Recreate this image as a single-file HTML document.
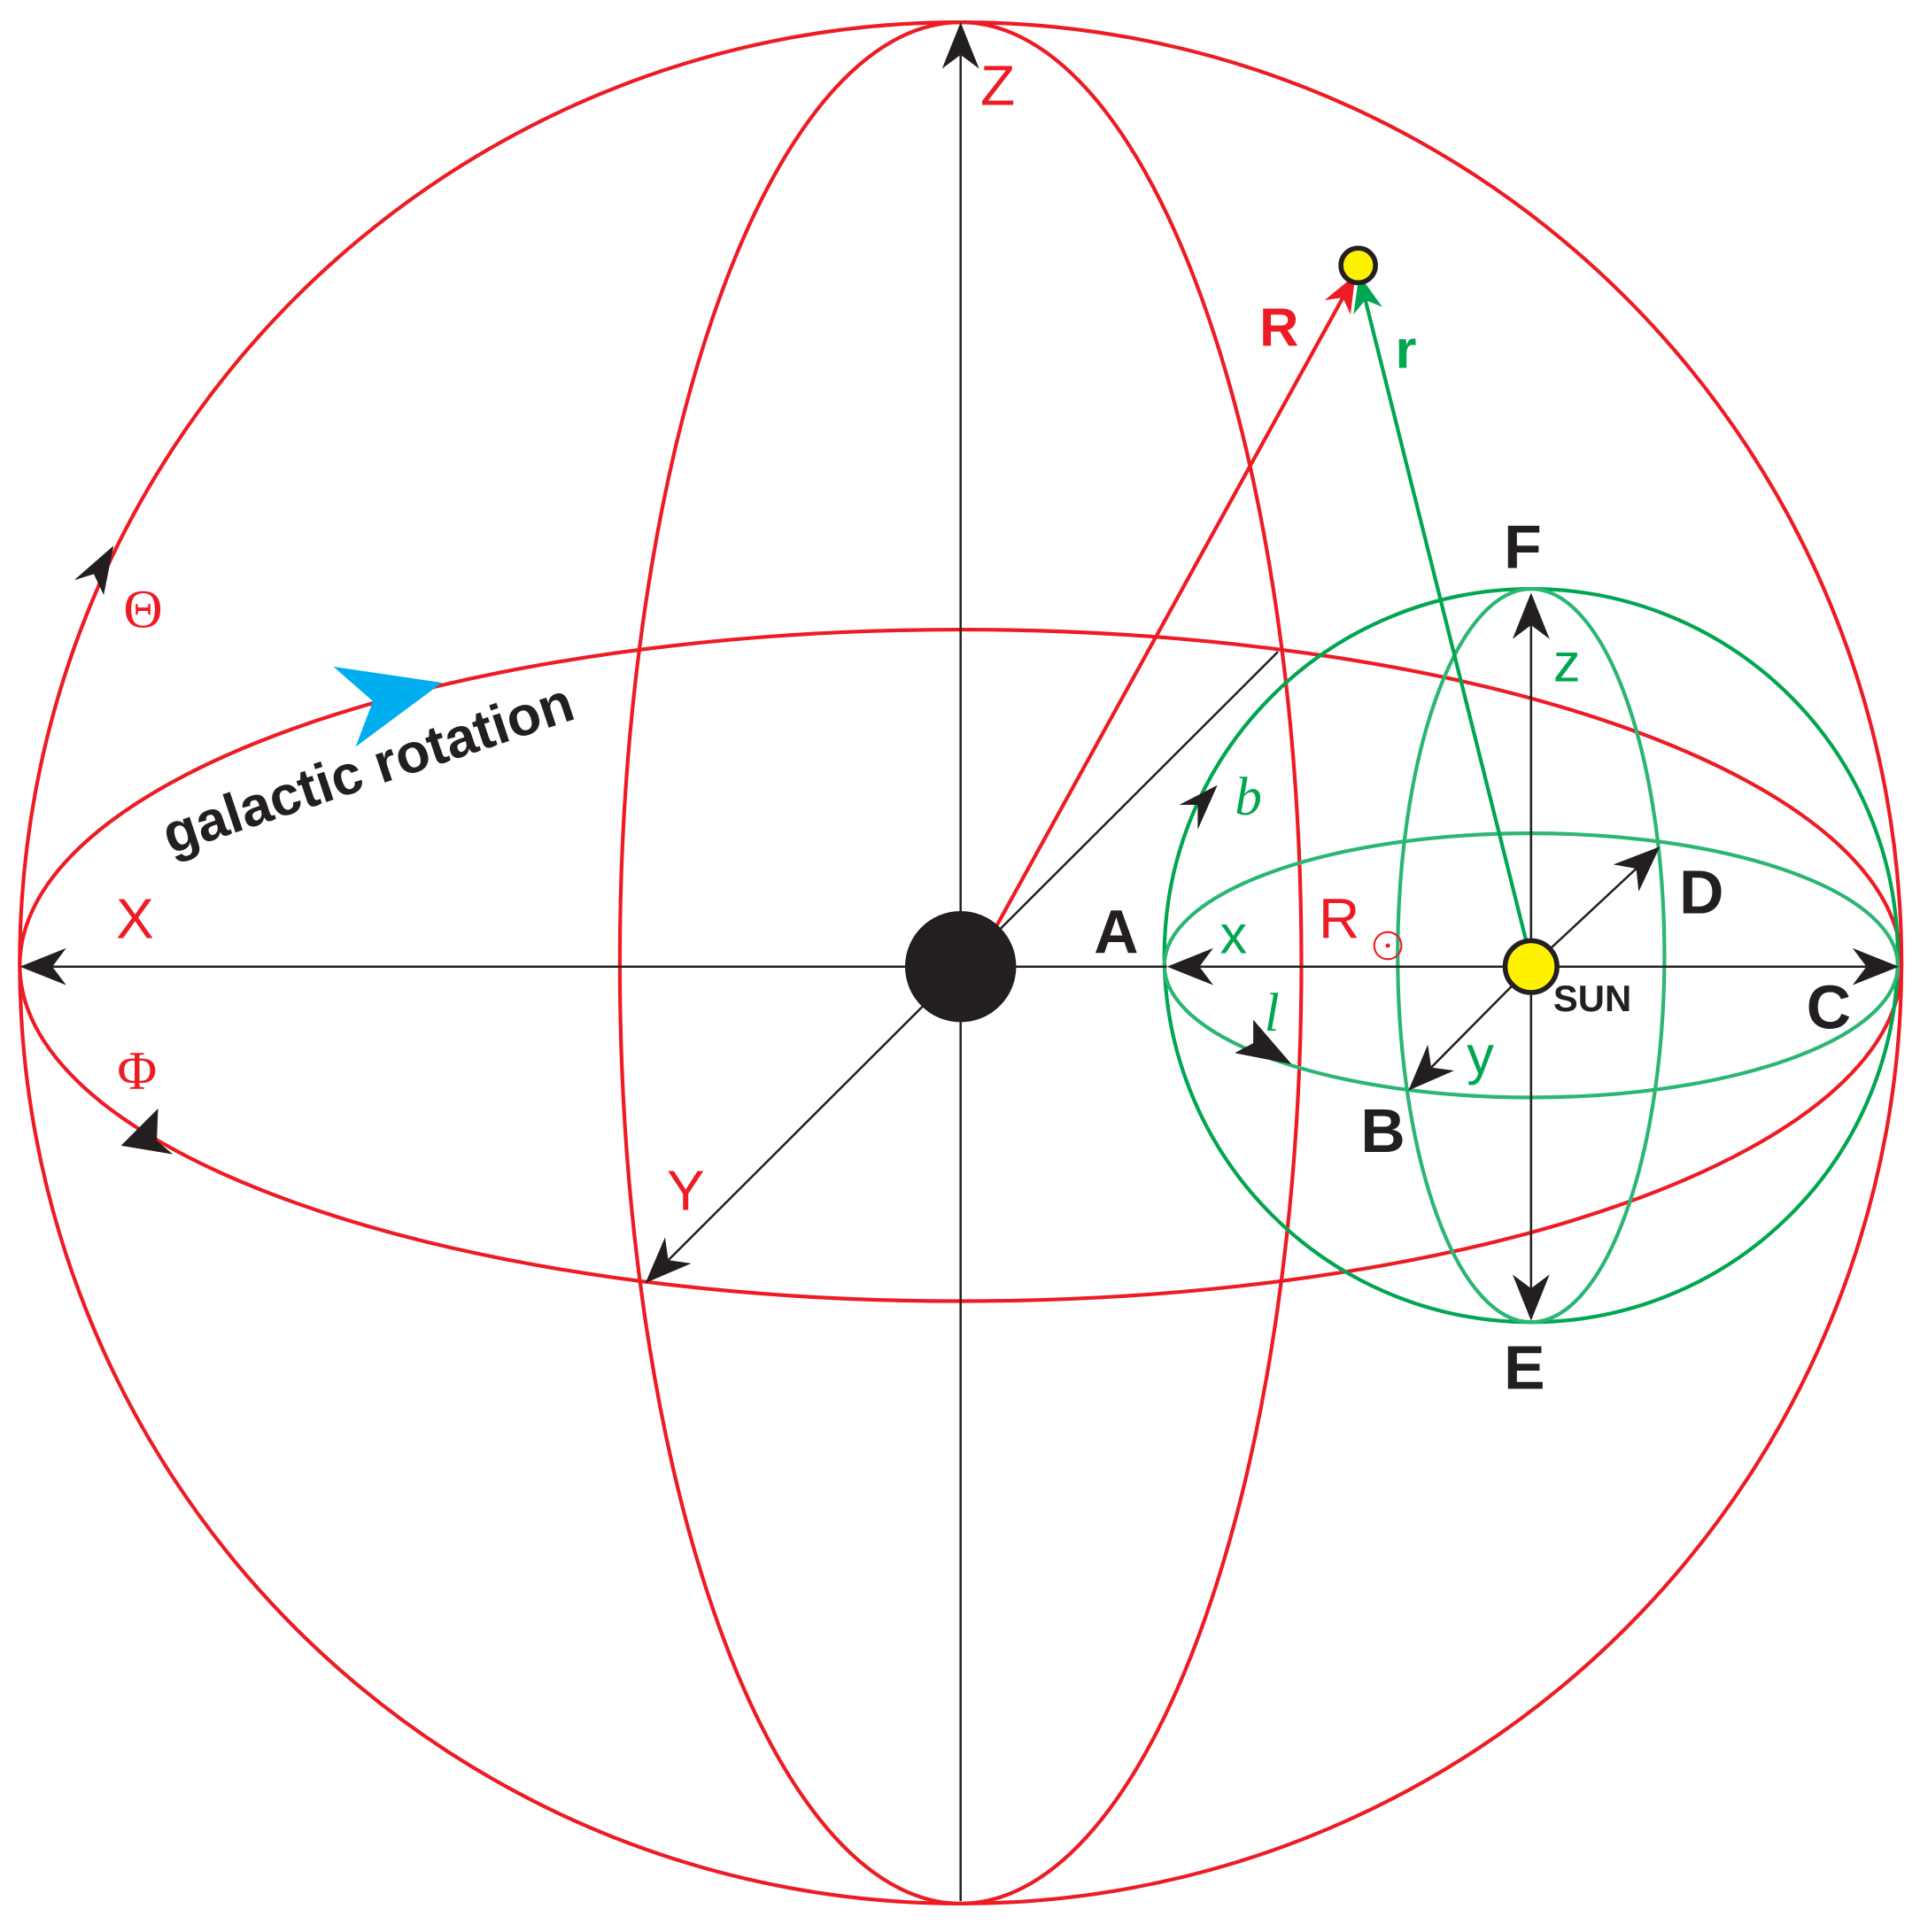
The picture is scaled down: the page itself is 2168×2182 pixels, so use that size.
<!DOCTYPE html>
<html><head><meta charset="utf-8"><style>
html,body{margin:0;padding:0;background:#fff}
svg{display:block}
text{font-family:"Liberation Sans",sans-serif}
</style></head><body>
<svg width="2168" height="2182" viewBox="0 0 1555 1565" xmlns="http://www.w3.org/2000/svg">
<defs>
<marker id="ah" viewBox="0 0 20 16" refX="19" refY="8" markerWidth="40" markerHeight="30" markerUnits="userSpaceOnUse" orient="auto">
<path d="M0,0 L20,8 L0,16 L6,8 Z" fill="#231f20"/></marker>
<marker id="ahr" viewBox="0 0 20 16" refX="19" refY="8" markerWidth="30" markerHeight="24" markerUnits="userSpaceOnUse" orient="auto">
<path d="M0,0 L20,8 L0,16 L6,8 Z" fill="#ed1c24"/></marker>
<marker id="ahg" viewBox="0 0 20 16" refX="19" refY="8" markerWidth="30" markerHeight="24" markerUnits="userSpaceOnUse" orient="auto">
<path d="M0,0 L20,8 L0,16 L6,8 Z" fill="#00a651"/></marker>
</defs>
<g fill="none" stroke="#ed1c24" stroke-width="3">
<circle cx="778" cy="780" r="762"/>
<ellipse cx="778" cy="780" rx="276" ry="762"/>
<ellipse cx="778" cy="782" rx="762" ry="272"/>
</g>
<g fill="none" stroke="#00a651" stroke-width="3">
<circle cx="1240" cy="774" r="297"/>
</g>
<g fill="none" stroke="#2bb673" stroke-width="3">
<ellipse cx="1240" cy="774" rx="108" ry="297"/>
<ellipse cx="1240" cy="782" rx="297" ry="107"/>
</g>
<g stroke="#231f20" stroke-width="1.8" fill="none">
<line x1="778" y1="1540" x2="778" y2="20" marker-end="url(#ah)"/>
<line x1="778" y1="783" x2="18" y2="783" marker-end="url(#ah)"/>
<line x1="778" y1="783" x2="945" y2="783"/>
<line x1="1035" y1="528" x2="524" y2="1038" marker-end="url(#ah)"/>
<line x1="1240" y1="783" x2="947" y2="783" marker-end="url(#ah)"/>
<line x1="1240" y1="783" x2="1536" y2="783" marker-end="url(#ah)"/>
<line x1="1240" y1="783" x2="1240" y2="482" marker-end="url(#ah)"/>
<line x1="1240" y1="783" x2="1240" y2="1068" marker-end="url(#ah)"/>
<line x1="1240" y1="783" x2="1343" y2="687" marker-end="url(#ah)"/>
<line x1="1240" y1="783" x2="1142" y2="882" marker-end="url(#ah)"/>
</g>
<line x1="795" y1="772" x2="1097" y2="224" stroke="#ed1c24" stroke-width="3" marker-end="url(#ahr)"/>
<line x1="1238" y1="770" x2="1101" y2="224" stroke="#00a651" stroke-width="3" marker-end="url(#ahg)"/>
<g fill="#231f20">
<path d="M92,442 L60,470 L76,465 L84,482 Z"/>
<path d="M98,928 L140,935 L127,924 L128,898 Z"/>
<path d="M986,636 L955,652 L970,652 L970,672 Z"/>
<path d="M1046,862 L1000,853 L1015,845 L1015,826 Z"/>
</g>
<path d="M270,540 L358,553 L288,605 L302,568 Z" fill="#00aeef"/>
<circle cx="778" cy="783" r="45" fill="#231f20"/>
<circle cx="1240" cy="783" r="21" fill="#fff200" stroke="#231f20" stroke-width="4"/>
<circle cx="1100" cy="215" r="14" fill="#fff200" stroke="#231f20" stroke-width="4"/>
<g fill="#ed1c24" font-size="46">
<text x="794" y="85">Z</text>
<text x="94" y="760">X</text>
<text x="540" y="980">Y</text>
<text x="1068" y="760">R</text>
</g>
<circle cx="1124" cy="766" r="11" fill="none" stroke="#ed1c24" stroke-width="1.5"/>
<circle cx="1124" cy="766" r="1.8" fill="#ed1c24"/>
<g fill="#ed1c24" font-size="44">
<text x="100" y="508" style="font-family:'Liberation Serif',serif">Θ</text>
<text x="95" y="882" style="font-family:'Liberation Serif',serif">Φ</text>
</g>
<text x="1020" y="280" fill="#ed1c24" font-size="44" font-weight="bold">R</text>
<text x="1130" y="298" fill="#00a651" font-size="44" font-weight="bold">r</text>
<g fill="#00a651" font-size="44">
<text x="988" y="772">x</text>
<text x="1258" y="552">z</text>
<text x="1188" y="870">y</text>
</g>
<g fill="#00a651" font-size="44" font-style="italic">
<text x="1000" y="660" style="font-family:'Liberation Serif',serif">b</text>
<text x="1024" y="835" style="font-family:'Liberation Serif',serif">l</text>
</g>
<g fill="#231f20" font-size="50" font-weight="bold">
<text x="1218" y="460">F</text>
<text x="886" y="772">A</text>
<text x="1360" y="740">D</text>
<text x="1463" y="833">C</text>
<text x="1102" y="933">B</text>
<text x="1218" y="1125">E</text>
</g>
<text x="1258" y="819" fill="#231f20" font-size="30" font-weight="bold">SUN</text>
<text x="0" y="0" fill="#231f20" font-size="45" font-weight="bold" transform="translate(138,692) rotate(-18.5)">galactic rotation</text>
</svg>
</body></html>
